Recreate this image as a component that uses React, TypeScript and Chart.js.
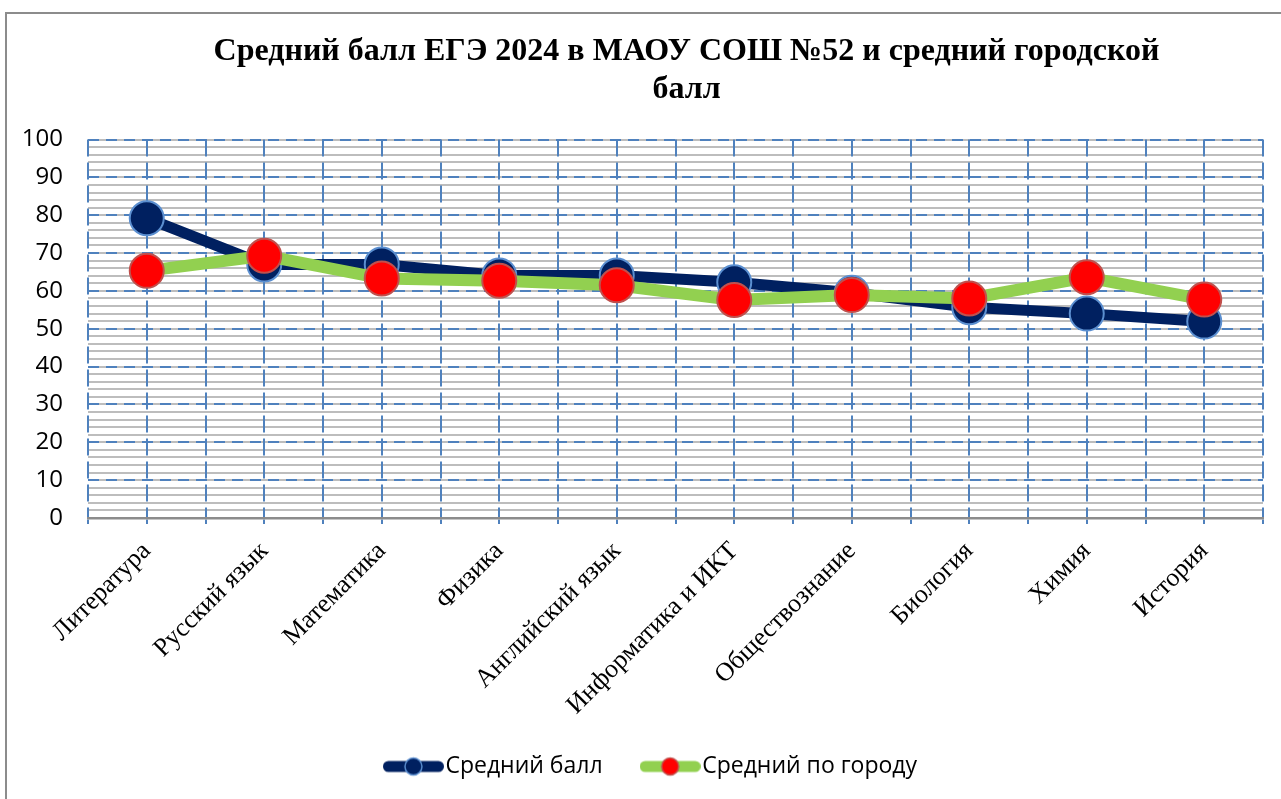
import React, { useEffect, useRef } from 'react';
import { Chart, registerables } from 'chart.js';

Chart.register(...registerables);

const categories = [
  'Литература',
  'Русский язык',
  'Математика',
  'Физика',
  'Английский язык',
  'Информатика и ИКТ',
  'Обществознание',
  'Биология',
  'Химия',
  'История',
];
const schoolScores = [79.2, 67, 67, 64.1, 64.1, 62.3, 59.5, 55.7, 54, 51.9];
const cityScores = [65.3, 69.3, 63.3, 62.7, 61.5, 57.6, 58.9, 58, 63.6, 57.7];
const seriesNames = ['Средний балл', 'Средний по городу'];
const titleLines = ['Средний балл ЕГЭ 2024 в МАОУ СОШ №52 и средний городской', 'балл'];
const yMin = 0;
const yMax = 100;
const yMajorStep = 10;
const yMinorStep = 2;

const NAVY = '#002060';
const NAVY_RING = '#5b8fd0';
const GREEN = '#92d050';
const RED = '#ff0000';
const RED_RING = '#c0504d';
const GRID_BLUE = '#4f81bd';

function makeIcon(line: string, lw: number, fill: string, ring: string) {
  const c = document.createElement('canvas');
  const w = 61;
  const h = 22;
  c.width = w;
  c.height = h;
  const ctx = c.getContext('2d')!;
  ctx.lineCap = 'round';
  ctx.strokeStyle = line;
  ctx.lineWidth = lw;
  ctx.beginPath();
  ctx.moveTo(lw / 2, h / 2);
  ctx.lineTo(w - lw / 2, h / 2);
  ctx.stroke();
  ctx.beginPath();
  ctx.arc(w / 2, h / 2, 8.5, 0, Math.PI * 2);
  ctx.fillStyle = fill;
  ctx.fill();
  ctx.lineWidth = 1.5;
  ctx.strokeStyle = ring;
  ctx.stroke();
  return c;
}

// shifts the title and legend blocks horizontally, as in the reference layout,
// and lets the long rotated category labels extend below the x-axis box
const shiftBlocks = {
  id: 'shiftBlocks',
  afterLayout(chart: any) {
    if (chart.titleBlock) {
      chart.titleBlock.left += 11;
      chart.titleBlock.right += 11;
    }
    if (chart.legend) {
      chart.legend.left += 12;
      chart.legend.right += 12;
    }
    if (chart.scales && chart.scales.x) {
      chart.scales.x.bottom = chart.height;
    }
  },
};

export default function App() {
  const ref = useRef<HTMLCanvasElement | null>(null);

  useEffect(() => {
    if (!ref.current) return;
    const icons = [makeIcon(NAVY, 11, NAVY, NAVY_RING), makeIcon(GREEN, 11, RED, RED_RING)];
    const chart = new Chart(ref.current, {
      type: 'line',
      plugins: [shiftBlocks],
      data: {
        labels: categories,
        datasets: [
          {
            label: seriesNames[0],
            data: schoolScores,
            order: 1,
            borderColor: NAVY,
            borderWidth: 11,
            borderJoinStyle: 'round',
            borderCapStyle: 'round',
            pointRadius: 17,
            pointHoverRadius: 17,
            pointBackgroundColor: NAVY,
            pointBorderColor: NAVY_RING,
            pointBorderWidth: 2,
            tension: 0,
            xAxisID: 'x',
            yAxisID: 'y',
          },
          {
            label: seriesNames[1],
            data: cityScores,
            order: 0,
            borderColor: GREEN,
            borderWidth: 12,
            borderJoinStyle: 'round',
            borderCapStyle: 'round',
            pointRadius: 17,
            pointHoverRadius: 17,
            pointBackgroundColor: RED,
            pointBorderColor: RED_RING,
            pointBorderWidth: 2,
            tension: 0,
            xAxisID: 'x',
            yAxisID: 'y',
          },
        ],
      },
      options: {
        responsive: false,
        animation: false,
        layout: { padding: { left: 16, right: 34, top: 0, bottom: 11 } },
        plugins: {
          tooltip: { enabled: false },
          title: {
            display: true,
            text: titleLines,
            fullSize: false,
            color: '#000',
            font: { family: "'Liberation Serif', 'Times New Roman', serif", size: 32, weight: 'bold', lineHeight: 1.18 },
            padding: { top: 19, bottom: 31 },
          },
          legend: {
            display: true,
            position: 'bottom',
            reverse: true,
            labels: {
              usePointStyle: true,
              pointStyleWidth: 41,
              padding: 47,
              color: '#000',
              font: { family: "'Open Sans', sans-serif", size: 23 },
              generateLabels: (c: any) => {
                const items = (Chart.defaults.plugins.legend.labels as any).generateLabels(c);
                items.forEach((it: any) => {
                  it.pointStyle = icons[it.datasetIndex];
                });
                return items;
              },
            },
          },
        },
        scales: {
          x: {
            type: 'category',
            position: 'bottom',
            offset: true,
            weight: 1,
            grid: { display: false, drawTicks: false },
            border: { display: false },
            afterFit: (s: any) => {
              s.height = 184;
              s.paddingLeft = 0;
              s.paddingRight = 0;
            },
            ticks: {
              autoSkip: false,
              minRotation: 45,
              maxRotation: 45,
              padding: 12,
              color: '#000',
              font: { family: "'Liberation Serif', 'Times New Roman', serif", size: 26 },
            },
          },
          x2: {
            type: 'linear',
            position: 'bottom',
            weight: 0,
            min: -0.5,
            max: 9.5,
            ticks: { display: false, stepSize: 0.5, autoSkip: false },
            grid: {
              color: GRID_BLUE,
              lineWidth: 2,
              drawTicks: true,
              tickLength: 6,
              tickColor: GRID_BLUE,
              tickWidth: 2,
              z: -2,
            },
            border: { display: true, color: '#8c8c8c', width: 2.5, dash: [17, 6] },
          },
          y2: {
            type: 'linear',
            position: 'right',
            min: yMin,
            max: yMax,
            ticks: { display: false, stepSize: yMinorStep },
            grid: { color: '#bdbdbd', lineWidth: 2, drawTicks: false, z: -3 },
            border: { display: false },
            afterFit: (s: any) => {
              s.width = 0;
            },
          },
          y: {
            type: 'linear',
            position: 'left',
            min: yMin,
            max: yMax,
            afterFit: (s: any) => {
              s.width = 65;
            },
            ticks: {
              stepSize: yMajorStep,
              padding: 25,
              color: '#000',
              font: { family: "'Open Sans', sans-serif", size: 24 },
            },
            grid: { color: GRID_BLUE, lineWidth: 2, drawTicks: false, z: -1 },
            border: { display: false, dash: [11, 7] },
          },
        },
      },
    } as any);
    return () => chart.destroy();
  }, []);

  return (
    <div style={{ position: 'fixed', left: 0, top: 0, width: 1281, height: 799, overflow: 'hidden', background: '#fff' }}>
      <div
        style={{
          position: 'absolute',
          left: 5,
          top: 12,
          width: 1320,
          height: 820,
          border: '2px solid #8c8c8c',
          boxSizing: 'border-box',
        }}
      />
      <canvas
        ref={ref}
        width={1290}
        height={785}
        style={{ position: 'absolute', left: 7, top: 14, width: 1290, height: 785 }}
      />
    </div>
  );
}
